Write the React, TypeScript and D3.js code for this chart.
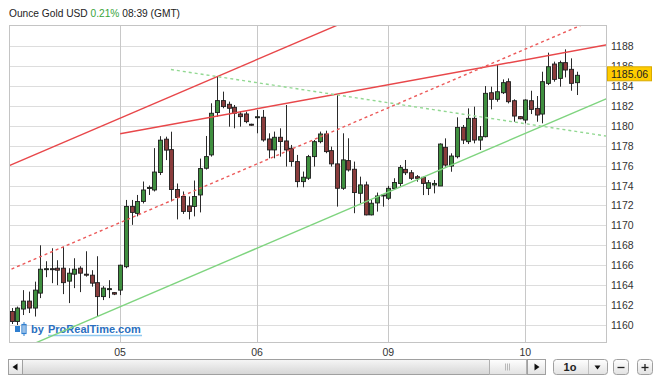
import React from 'react';
import * as d3 from 'd3';

// ---- data ----
const titleName = 'Ounce Gold USD';
const changePct = '0.21%';
const titleTime = '08:39 (GMT)';
const lastPrice = 1185.06;

const dayTickIndex = [19, 43, 66, 90];
const dayTickLabel = ['05', '06', '09', '10'];
const priceTicks = d3.range(1160, 1189, 2);

const openP = [
  1161.35, 1160.35, 1161.6, 1162.4, 1161.7, 1163.2, 1165.55, 1165.65, 1165.7, 1165.7,
  1164.4, 1165.1, 1165.7, 1165.1, 1165.0, 1164.25, 1162.85, 1163.55, 1163.25, 1163.5,
  1165.85, 1171.9, 1171.2, 1172.4, 1173.7, 1173.55, 1175.3, 1178.65, 1177.6, 1173.6,
  1172.9, 1171.95, 1171.9, 1173.05, 1175.73, 1177.07, 1181.32, 1182.52, 1182.15, 1181.85,
  1181.18, 1181.18, 1180.15, 1180.85, 1180.85, 1178.67, 1177.57, 1178.84, 1178.47, 1177.74,
  1176.4, 1174.39, 1174.73, 1176.9, 1178.4, 1179.17, 1177.5, 1176.17, 1173.72, 1176.5,
  1175.63, 1173.22, 1174.06, 1171.05, 1172.25, 1173.0, 1172.72, 1173.7, 1174.2, 1175.62,
  1175.28, 1174.88, 1174.82, 1173.71, 1174.05, 1173.95, 1177.83, 1175.95, 1176.89, 1179.83,
  1178.4, 1180.74, 1178.56, 1178.9, 1183.31, 1182.65, 1183.31, 1184.42, 1182.51, 1180.91,
  1180.57, 1182.51, 1181.74, 1181.17, 1184.25, 1186.19, 1184.75, 1186.33, 1185.66, 1184.32,
];
const highP = [
  1161.7, 1161.85, 1163.5, 1163.35, 1164.35, 1168.0, 1166.4, 1167.7, 1166.5, 1167.85,
  1165.7, 1166.7, 1165.9, 1167.4, 1165.5, 1166.9, 1163.9, 1164.5, 1163.3, 1166.05,
  1172.55, 1172.55, 1173.05, 1174.4, 1174.0, 1177.75, 1178.95, 1178.9, 1179.4, 1174.2,
  1173.4, 1172.9, 1174.5, 1176.7, 1178.97, 1182.25, 1184.93, 1183.42, 1182.42, 1182.08,
  1181.42, 1181.42, 1180.2, 1181.58, 1181.58, 1179.24, 1179.41, 1179.74, 1182.08, 1178.07,
  1177.07, 1175.4, 1177.07, 1178.57, 1179.41, 1179.5, 1177.9, 1183.16, 1179.24, 1178.74,
  1176.4, 1174.89, 1174.39, 1172.55, 1173.29, 1173.05, 1173.96, 1174.73, 1176.05, 1176.56,
  1175.55, 1175.05, 1174.88, 1174.55, 1174.55, 1178.23, 1178.73, 1177.23, 1180.84, 1180.07,
  1181.74, 1181.91, 1179.97, 1183.98, 1183.92, 1186.09, 1184.65, 1184.75, 1182.65, 1180.95,
  1182.65, 1183.51, 1182.98, 1185.42, 1187.33, 1186.43, 1186.53, 1187.66, 1186.76, 1185.42,
];
const lowP = [
  1160.1, 1160.0, 1161.0, 1161.2, 1160.85, 1162.7, 1164.8, 1164.2, 1164.0, 1163.1,
  1162.2, 1163.7, 1163.3, 1164.85, 1163.85, 1160.85, 1162.5, 1162.7, 1163.0, 1163.0,
  1165.7, 1170.05, 1170.9, 1172.2, 1173.05, 1173.4, 1175.05, 1176.55, 1172.4, 1170.6,
  1171.15, 1170.6, 1170.9, 1171.3, 1175.6, 1176.9, 1180.9, 1181.75, 1179.9, 1179.74,
  1179.91, 1180.25, 1180.0, 1179.24, 1178.4, 1176.73, 1176.73, 1176.9, 1175.9, 1175.9,
  1173.82, 1173.82, 1174.56, 1175.9, 1178.24, 1177.24, 1175.9, 1171.88, 1173.56, 1175.4,
  1171.22, 1172.22, 1171.0, 1171.0, 1171.38, 1171.88, 1172.55, 1173.56, 1173.88, 1175.05,
  1174.55, 1174.38, 1173.04, 1173.04, 1173.21, 1173.95, 1175.89, 1175.38, 1176.72, 1178.16,
  1178.16, 1178.23, 1177.56, 1178.83, 1181.64, 1182.41, 1183.18, 1182.24, 1180.4, 1180.65,
  1180.24, 1181.17, 1180.4, 1180.24, 1184.08, 1184.42, 1183.92, 1184.85, 1183.51, 1183.08,
];
const closeP = [
  1160.35, 1161.7, 1162.4, 1161.7, 1163.5, 1165.6, 1165.65, 1165.55, 1165.5, 1164.25,
  1165.2, 1165.6, 1165.2, 1165.0, 1164.2, 1162.85, 1163.7, 1163.65, 1163.1, 1166.0,
  1171.9, 1171.3, 1172.4, 1173.55, 1173.8, 1175.35, 1178.55, 1177.55, 1173.6, 1172.8,
  1171.4, 1171.4, 1172.9, 1175.7, 1176.9, 1181.25, 1182.52, 1181.92, 1181.75, 1181.25,
  1180.91, 1180.41, 1180.05, 1180.9, 1178.57, 1177.57, 1178.84, 1178.41, 1177.57, 1176.4,
  1174.39, 1174.83, 1176.9, 1178.4, 1179.17, 1177.4, 1176.17, 1173.72, 1176.57, 1175.56,
  1173.29, 1174.06, 1171.05, 1172.22, 1172.95, 1173.05, 1173.72, 1174.3, 1175.8, 1175.28,
  1174.72, 1174.72, 1174.21, 1174.28, 1174.21, 1178.16, 1176.05, 1176.96, 1179.83, 1178.56,
  1180.74, 1178.56, 1178.9, 1183.25, 1182.65, 1183.41, 1184.32, 1182.41, 1180.97, 1180.7,
  1182.58, 1181.64, 1181.07, 1184.42, 1185.92, 1184.65, 1186.33, 1185.59, 1184.25, 1185.06,
];

// trend lines: [barIndex, price] endpoints
const redSteepLine: [number, number][] = [[-1, 1175.86], [110, 1203.07]];
const redDashedLine: [number, number][] = [[-1, 1165.38], [110, 1192.59]];
const redFlatLine: [number, number][] = [[19, 1179.19], [105, 1188.19]];
const greenLine: [number, number][] = [[-1, 1156.93], [110, 1184.13]];
const greenDashedLine: [number, number][] = [[27.9, 1185.64], [105, 1178.89]];

// ---- layout ----
const W = 660, H = 382;
const PL = 9, PR = 607, PT = 25, PB = 343;
const FONT = '"Liberation Sans", Arial, Helvetica, sans-serif';

export default function App() {
  const x = d3.scaleLinear().domain([0, 99]).range([11.7, 576.7]);
  const y = d3.scaleLinear().domain([1160, 1188]).range([325, 46]);
  const line = d3.line<[number, number]>().x(d => x(d[0])).y(d => y(d[1]));
  const bw = 4;
  const tagY = y(lastPrice) - 1.5;

  return (
    <svg width={W} height={H} style={{ position: 'absolute', left: 0, top: 0, background: '#fff' }} fontFamily={FONT}>
      <defs>
        <clipPath id="plotClip"><rect x={PL} y={PT} width={PR - PL} height={PB - PT} /></clipPath>
        <linearGradient id="trackG" x1="0" y1="0" x2="0" y2="1">
          <stop offset="0" stopColor="#f6f6f6" />
          <stop offset="1" stopColor="#d6d6d6" />
        </linearGradient>
        <linearGradient id="btnG" x1="0" y1="0" x2="0" y2="1">
          <stop offset="0" stopColor="#ffffff" />
          <stop offset="1" stopColor="#e2e2e2" />
        </linearGradient>
      </defs>

      {/* title */}
      <text x={9} y={17} fontSize={10.2} fill="#222">
        {titleName + ' '}
        <tspan fill="#3aa53a">{changePct}</tspan>
        {' ' + titleTime}
      </text>

      {/* grid */}
      {priceTicks.map(p => (
        <line key={'h' + p} x1={PL} x2={PR} y1={Math.round(y(p)) + 0.5} y2={Math.round(y(p)) + 0.5} stroke="#dddddd" />
      ))}
      {dayTickIndex.map(i => (
        <line key={'v' + i} x1={Math.round(x(i)) + 0.5} x2={Math.round(x(i)) + 0.5} y1={PT} y2={PB} stroke="#c8c8c8" />
      ))}

      {/* watermark */}
      <g>
        <rect x={15} y={326} width={5} height={6} fill="#2f7fd0" />
        <rect x={22} y={324.5} width={4} height={9} fill="none" stroke="#2f7fd0" strokeWidth={1.2} />
        <line x1={24} x2={24} y1={322} y2={336} stroke="#2f7fd0" strokeWidth={1} />
        <text x={31} y={333} fontSize={11} fontWeight="bold" fill="#2a6fc0">by</text>
        <text x={48} y={333} fontSize={11} fontWeight="bold" fill="#2a6fc0">ProRealTime.com</text>
        <line x1={48} x2={142} y1={335.5} y2={335.5} stroke="#8ec8f0" strokeWidth={1.5} />
      </g>

      <g clipPath="url(#plotClip)">
        {/* candles */}
        {openP.map((o, i) => {
          const c = closeP[i];
          const cx = Math.round(x(i)) + 0.5;
          const up = c >= o;
          const top = y(Math.max(o, c));
          const bot = y(Math.min(o, c));
          const h = Math.max(1, bot - top);
          return (
            <g key={'c' + i}>
              <line x1={cx} x2={cx} y1={y(highP[i])} y2={y(lowP[i])} stroke="#2a2a2a" strokeWidth={1} />
              <rect x={cx - bw / 2} y={top} width={bw} height={h}
                fill={up ? '#3f8f3f' : '#8a3c3c'} stroke="#1e1e1e" strokeWidth={0.9} />
            </g>
          );
        })}

        {/* trend lines */}
        <path d={line(redSteepLine) || ''} stroke="#e8474a" strokeWidth={1.4} fill="none" />
        <path d={line(redFlatLine) || ''} stroke="#e8474a" strokeWidth={1.4} fill="none" />
        <path d={line(redDashedLine) || ''} stroke="#ec5a5a" strokeWidth={1.4} fill="none" strokeDasharray="3,3" />
        <path d={line(greenLine) || ''} stroke="#7fd47f" strokeWidth={1.4} fill="none" />
        <path d={line(greenDashedLine) || ''} stroke="#92d892" strokeWidth={1.4} fill="none" strokeDasharray="3,3" />
      </g>

      {/* frame */}
      <rect x={PL + 0.5} y={PT + 0.5} width={PR - PL - 1} height={PB - PT - 1} fill="none" stroke="#c4c4c4" />

      {/* y axis labels */}
      {priceTicks.map(p => (
        <text key={'yl' + p} x={611} y={y(p) + 4} fontSize={10.5} fill="#333">{p}</text>
      ))}

      {/* last price tag */}
      <rect x={607.5} y={tagY - 7} width={44} height={14} fill="#ffcc00" stroke="#d9aa00" />
      <text x={629.5} y={tagY + 4} fontSize={10.5} fill="#222" textAnchor="middle">{lastPrice.toFixed(2)}</text>

      {/* x axis labels */}
      {dayTickIndex.map((i, k) => (
        <text key={'xl' + i} x={x(i)} y={356} fontSize={10.5} fill="#333" textAnchor="middle">{dayTickLabel[k]}</text>
      ))}

      {/* scrollbar */}
      <g>
        <rect x={8.5} y={359.5} width={537} height={15} fill="url(#trackG)" stroke="#a0a0a0" />
        <rect x={8.5} y={359.5} width={14} height={15} fill="url(#btnG)" stroke="#a0a0a0" />
        <path d="M12.5,367 L17.5,363.5 L17.5,370.5 Z" fill="#111" />
        <rect x={489.5} y={359.5} width={37} height={15} fill="url(#btnG)" stroke="#b0b0b0" />
        {[505, 507, 509].map(gx => (
          <line key={gx} x1={gx + 0.5} x2={gx + 0.5} y1={363.5} y2={370.5} stroke="#b8b8b8" />
        ))}
        <rect x={527.5} y={359.5} width={18} height={15} fill="url(#btnG)" stroke="#a0a0a0" />
        <path d="M534.5,363.5 L539.5,367 L534.5,370.5 Z" fill="#111" />

        <rect x={553.5} y={359.5} width={54} height={15} rx={3} fill="url(#btnG)" stroke="#a0a0a0" />
        <text x={570} y={371} fontSize={11} fontWeight="bold" fill="#222" textAnchor="middle">1o</text>
        <line x1={588.5} x2={588.5} y1={360} y2={374} stroke="#c0c0c0" />
        <path d="M594.5,365.5 L600.5,365.5 L597.5,369.5 Z" fill="#111" />

        <rect x={613.5} y={359.5} width={15} height={15} rx={3} fill="url(#btnG)" stroke="#a0a0a0" />
        <line x1={617.5} x2={624.5} y1={367.5} y2={367.5} stroke="#222" strokeWidth={1.3} />
        <rect x={637.5} y={359.5} width={15} height={15} rx={3} fill="url(#btnG)" stroke="#a0a0a0" />
        <line x1={641.5} x2={648.5} y1={367.5} y2={367.5} stroke="#222" strokeWidth={1.3} />
        <line x1={645} x2={645} y1={364} y2={371} stroke="#222" strokeWidth={1.3} />
      </g>
    </svg>
  );
}
